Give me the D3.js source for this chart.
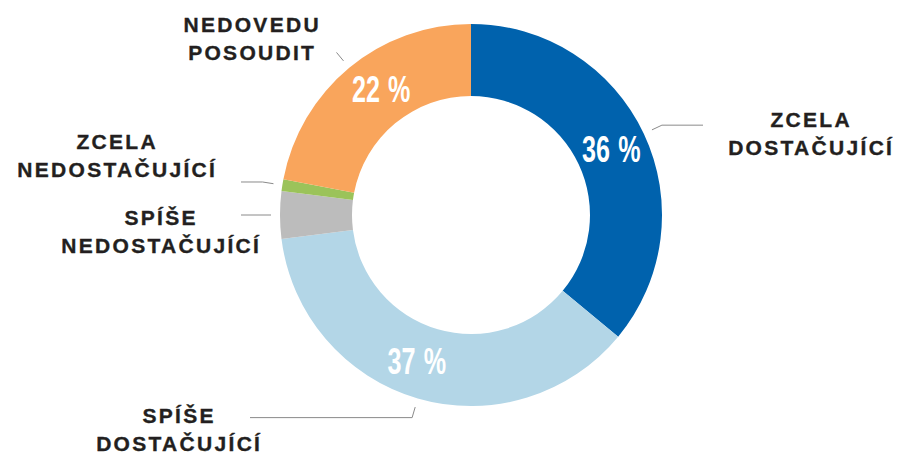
<!DOCTYPE html>
<html>
<head>
<meta charset="utf-8">
<script src="https://cdn.jsdelivr.net/npm/d3@7"></script>
<style>
  html, body { margin: 0; padding: 0; background: #fff; }
  svg { display: block; }
  .cat { font-family: "Liberation Sans", Arial, sans-serif; font-weight: bold; font-size: 21px; letter-spacing: 2.3px; fill: #231f20; stroke: #231f20; stroke-width: 0.35px; }
  .pct { font-family: "Liberation Sans Narrow", "Liberation Sans", sans-serif; font-weight: bold; font-size: 37px; fill: #fff; }
</style>
</head>
<body>
<svg id="chart" width="898" height="452"></svg>
<script>
// data, clockwise from 12 o'clock
let categories = ['ZCELA DOSTAČUJÍCÍ', 'SPÍŠE DOSTAČUJÍCÍ', 'SPÍŠE NEDOSTAČUJÍCÍ', 'ZCELA NEDOSTAČUJÍCÍ', 'NEDOVEDU POSOUDIT']
let values = [36, 37, 4, 1, 22]
let colors = ['#0062ad', '#b3d6e7', '#bcbcbc', '#9bc35a', '#f9a55c']
// which slices get a % label inside the ring
let showPct = [true, true, false, false, true]

// label layout: two lines, centre x, first baseline, end x of the horizontal leader (null = no horizontal)
let labelLines = [['ZCELA', 'DOSTAČUJÍCÍ'], ['SPÍŠE', 'DOSTAČUJÍCÍ'], ['SPÍŠE', 'NEDOSTAČUJÍCÍ'], ['ZCELA', 'NEDOSTAČUJÍCÍ'], ['NEDOVEDU', 'POSOUDIT']]
let labelX = [810, 178, 160, 116, 251]
let labelY = [127, 423, 225, 149, 32]
let leaderEndX = [703, 250, 241, 241, null]
// small nudges of the % labels off the centroid
let pctDx = [0, -11, 0, 0, 9]
let pctDy = [0, -3, 0, 0, -7]

let svg = d3.select('#chart')
let cx = 471, cy = 215
let outerR = 191, innerR = 119

let g = svg.append('g').attr('transform', `translate(${cx},${cy})`)

let pie = d3.pie().sort(null).value(d => d)
let arcs = pie(values)

let arc = d3.arc().innerRadius(innerR).outerRadius(outerR)
let labelArc = d3.arc().innerRadius(155).outerRadius(155)

g.selectAll('path.slice')
  .data(arcs)
  .enter()
  .append('path')
  .attr('class', 'slice')
  .attr('d', arc)
  .attr('fill', (d, i) => colors[i])

// point on a radius at the middle of a slice
let polar = (a, r) => [r * Math.sin(a), -r * Math.cos(a)]

// leader lines
let line = d3.line()
arcs.forEach((d, i) => {
  let mid = (d.startAngle + d.endAngle) / 2
  let p1 = polar(mid, 200)
  let p2 = polar(mid, 211)
  let pts = [p1, p2]
  if (leaderEndX[i] !== null) pts.push([leaderEndX[i] - cx, p2[1]])
  g.append('path')
    .attr('d', line(pts))
    .attr('fill', 'none')
    .attr('stroke', '#8a8a8a')
    .attr('stroke-width', 1)
})

// % labels
arcs.forEach((d, i) => {
  if (!showPct[i]) return
  let c = labelArc.centroid(d)
  let t = g.append('text')
    .attr('class', 'pct')
    .attr('text-anchor', 'middle')
    .attr('transform', `translate(${c[0] + pctDx[i]},${c[1] + 13 + pctDy[i]}) scale(0.68,1)`)
  t.append('tspan').text(d.value)
  t.append('tspan').attr('dx', 12).text('%')
})

// category labels
labelLines.forEach((lines, i) => {
  let t = svg.append('text')
    .attr('class', 'cat')
    .attr('text-anchor', 'middle')
  lines.forEach((s, j) => {
    t.append('tspan')
      .attr('x', labelX[i] + 1.2)
      .attr('y', labelY[i] + j * 28)
      .text(s)
  })
})
</script>
</body>
</html>
